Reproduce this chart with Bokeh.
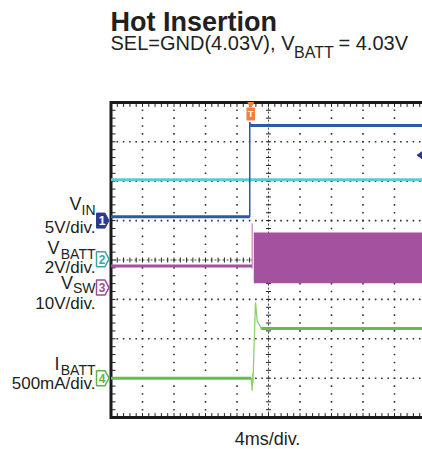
import numpy as np
from bokeh.plotting import figure
from bokeh.models import Range1d
from bokeh.embed import file_html
from bokeh.resources import INLINE
from bokeh.core.properties import value

# ---------------- data ----------------
MS_PER_DIV = 4.0                      # 4ms/div, time 0 at the centre line

# channel settings: units per division and ground marker position (div)
ch_name = ["1", "2", "3", "4"]
ch_scale = [5.0, 2.0, 10.0, 500.0]    # V/div, V/div, V/div, mA/div
ch_offset = [1.0, 0.02, -0.70, -3.0]

# CH1  VIN (V)
vin_t = [-20.0, -2.38, -2.38, -2.30, -2.15, 20.0]
vin_v = [0.5, 0.5, 12.5, 12.1, 12.06, 12.06]

# CH2  VBATT (V)
vbatt_t = [-20.0, 20.0]
vbatt_v = [4.03, 4.03]

# CH3  VSW (V)
vsw_t = [-20.0, -2.10]
vsw_v = [5.5, 5.5]
vsw_edge_t = [-2.07, -2.07]
vsw_edge_v = [4.8, 16.3]
vsw_band_t = [-1.87, 20.0]
vsw_band_lo = [1.1, 1.1]
vsw_band_hi = [14.0, 14.0]

# CH4  IBATT (mA)
ibatt_t = [-20.0, -2.20, -2.07, -2.02, -1.97, -1.85, -1.65, -1.43, -1.23, -0.93, 20.0]
ibatt_i = [0.0, 0.0, -160.0, 60.0, -60.0, 350.0, 963.0, 725.0, 690.0, 630.0, 630.0]

trig_t = -2.25          # trigger position (ms)
trig_level_v = 8.3      # CH1 trigger level (V)

# ---------------- layout ----------------
W, H = 422, 449
PXX, PXY = 31.5, 39.4     # pixels per division
CX, CY = 268.0, 259.5     # screen position of the graticule centre

def X(px):
    return (px - CX) / PXX * MS_PER_DIV

def Y(py):
    return (CY - py) / PXY

def to_div(vals, ch):
    return [ch_offset[ch] + v / ch_scale[ch] for v in vals]

TXT = "#231f20"
FONT = "Liberation Sans"
C_VIN, C_VBATT, C_VSW, C_IB = "#2c5aa6", "#5ec8d3", "#a4519f", "#69bd45"
C_MARK = ["#2b3990", "#3aa6aa", "#9c4a9a", "#5bb548"]
BASE_SHIFT = 0.36   # measured offset of the rendered alphabetic baseline (x font size)

p = figure(width=W, height=H, x_range=Range1d(X(0), X(W)), y_range=Range1d(Y(H), Y(0)),
           output_backend="svg", toolbar_location=None, title=None,
           x_axis_location=None, y_axis_location=None, min_border=0)
p.grid.visible = False
p.outline_line_color = None
p.background_fill_color = "white"
p.border_fill_color = "white"

# ---------------- graticule ----------------
xs_sub = np.arange(-5, 5.0001, 0.2)
ys_sub = np.arange(-4, 4.0001, 0.2)
gx, gy = [], []
for yy in [-3, -2, -1, 1, 2, 3]:
    for xx in xs_sub:
        gx.append(xx * MS_PER_DIV); gy.append(yy)
for xx in [-4, -3, -2, -1, 1, 2, 3, 4]:
    for yy in ys_sub:
        gx.append(xx * MS_PER_DIV); gy.append(yy)
p.scatter(gx, gy, marker="square", size=1.6, fill_color="#333333", line_color=None)

# centre lines
p.line([X(110), X(W + 5)], [0, 0], line_color="#444444", line_width=1, line_dash="2 2")
p.line([0, 0], [-4, 4], line_color="#444444", line_width=1, line_dash="2 2")
hx = 2.5 / PXX * MS_PER_DIV
hy = 2.5 / PXY
p.segment(x0=[x * MS_PER_DIV for x in xs_sub], y0=[-hy] * len(xs_sub),
          x1=[x * MS_PER_DIV for x in xs_sub], y1=[hy] * len(xs_sub),
          line_color="#222222", line_width=1)
p.segment(x0=[-hx] * len(ys_sub), y0=list(ys_sub), x1=[hx] * len(ys_sub), y1=list(ys_sub),
          line_color="#222222", line_width=1)

# frame edge ticks
tl = 4.5
p.segment(x0=[x * MS_PER_DIV for x in xs_sub], y0=[4] * len(xs_sub),
          x1=[x * MS_PER_DIV for x in xs_sub], y1=[4 - tl / PXY] * len(xs_sub),
          line_color="#222222", line_width=1)
p.segment(x0=[x * MS_PER_DIV for x in xs_sub], y0=[-4] * len(xs_sub),
          x1=[x * MS_PER_DIV for x in xs_sub], y1=[-4 + tl / PXY] * len(xs_sub),
          line_color="#222222", line_width=1)
p.segment(x0=[-5 * MS_PER_DIV] * len(ys_sub), y0=list(ys_sub),
          x1=[-5 * MS_PER_DIV + tl / PXX * MS_PER_DIV] * len(ys_sub), y1=list(ys_sub),
          line_color="#222222", line_width=1)

# frame (left, top, bottom; the right edge lies beyond the picture)
p.line([X(W + 5), -5 * MS_PER_DIV, -5 * MS_PER_DIV, X(W + 5)], [4, 4, -4, -4],
       line_color="#1a1a1a", line_width=3, line_join="miter")

# ---------------- traces ----------------
p.line(vbatt_t, to_div(vbatt_v, 1), line_color=C_VBATT, line_width=3)

vin_div = to_div(vin_v, 0)
p.line(vin_t, vin_div, line_color=C_VIN, line_width=1.5)
p.line(vin_t[:2], vin_div[:2], line_color=C_VIN, line_width=3)
p.line(vin_t[3:], vin_div[3:], line_color=C_VIN, line_width=3)

p.varea(x=vsw_band_t, y1=to_div(vsw_band_lo, 2), y2=to_div(vsw_band_hi, 2),
        fill_color=C_VSW)
p.line(vsw_edge_t, to_div(vsw_edge_v, 2), line_color="#c88fc4", line_width=1.3)
p.line(vsw_t, to_div(vsw_v, 2), line_color=C_VSW, line_width=3)

ib_div = to_div(ibatt_i, 3)
p.line(ibatt_t, ib_div, line_color="#8fd06c", line_width=1.3)
p.line(ibatt_t[:2], ib_div[:2], line_color=C_IB, line_width=3)
p.line(ibatt_t[-2:], ib_div[-2:], line_color=C_IB, line_width=3)

# ---------------- channel markers ----------------
for i in range(4):
    cy = CY - ch_offset[i] * PXY
    xs = [X(96), X(104.5), X(108.5), X(104.5), X(96)]
    ys = [Y(cy - 7.5), Y(cy - 7.5), Y(cy), Y(cy + 7.5), Y(cy + 7.5)]
    if i == 0:
        p.patch(xs, ys, fill_color=C_MARK[i], line_color=C_MARK[i], line_width=1)
        tc = "white"
    else:
        p.patch(xs, ys, fill_color="white", line_color=C_MARK[i], line_width=1.5)
        tc = C_MARK[i]
    p.text(x=[X(101.5)], y=[Y(cy + 4.5 - BASE_SHIFT * 12)], text=[ch_name[i]], text_color=tc,
           text_font=value(FONT), text_font_size=value("12px"), text_font_style="bold",
           text_align="center", text_baseline="alphabetic")

# trigger level marker (right) and trigger position marker (top)
ty = CY - (ch_offset[0] + trig_level_v / ch_scale[0]) * PXY
p.patch([X(416.5), X(423), X(423)], [Y(ty), Y(ty - 4.5), Y(ty + 4.5)],
        fill_color=C_MARK[0], line_color=C_MARK[0])
tx = CX + trig_t / MS_PER_DIV * PXX
p.patch([X(tx - 3), X(tx + 3), X(tx)], [Y(102), Y(102), Y(107)], fill_color="#f0803c",
        line_color="#f0803c")
p.quad(left=[X(tx - 3.8)], right=[X(tx + 3.8)], top=[Y(107.5)], bottom=[Y(119.5)],
       fill_color="#f0803c", line_color="#f0803c")
p.text(x=[X(tx)], y=[Y(117 - BASE_SHIFT * 9)], text=["T"], text_color="white",
       text_font=value(FONT), text_font_size=value("9px"), text_font_style="bold",
       text_align="center", text_baseline="alphabetic")

# ---------------- texts ----------------
def txt(px, py, s, size, align="left", bold=False, color=TXT):
    p.text(x=[X(px)], y=[Y(py - BASE_SHIFT * size)], text=[s], text_color=color,
           text_font=value(FONT), text_font_size=value(f"{size}px"),
           text_font_style="bold" if bold else "normal",
           text_align=align, text_baseline="alphabetic")

txt(110, 31, "Hot Insertion", 27, bold=True)
txt(110, 50, "SEL=GND(4.03V), V", 20)
txt(293.5, 58, "BATT", 16)
txt(338, 50, "= 4.03V", 20)

R = 95
txt(R, 215, "IN", 14, align="right")
txt(R - 14, 210, "V", 18, align="right")
txt(R, 233, "5V/div.", 17, align="right")

txt(R, 258.5, "BATT", 14, align="right")
txt(R - 36, 254, "V", 18, align="right")
txt(R, 273.5, "2V/div.", 17, align="right")

txt(R, 293, "SW", 14, align="right")
txt(R - 22.5, 288.5, "V", 18, align="right")
txt(R, 309.5, "10V/div.", 17, align="right")

txt(R, 375, "BATT", 14, align="right")
txt(R - 36, 370, "I", 18, align="right")
txt(R, 389.5, "500mA/div.", 17, align="right")

txt(267, 445, "4ms/div.", 18, align="center")

open("out.html", "w").write(file_html(p, INLINE))
